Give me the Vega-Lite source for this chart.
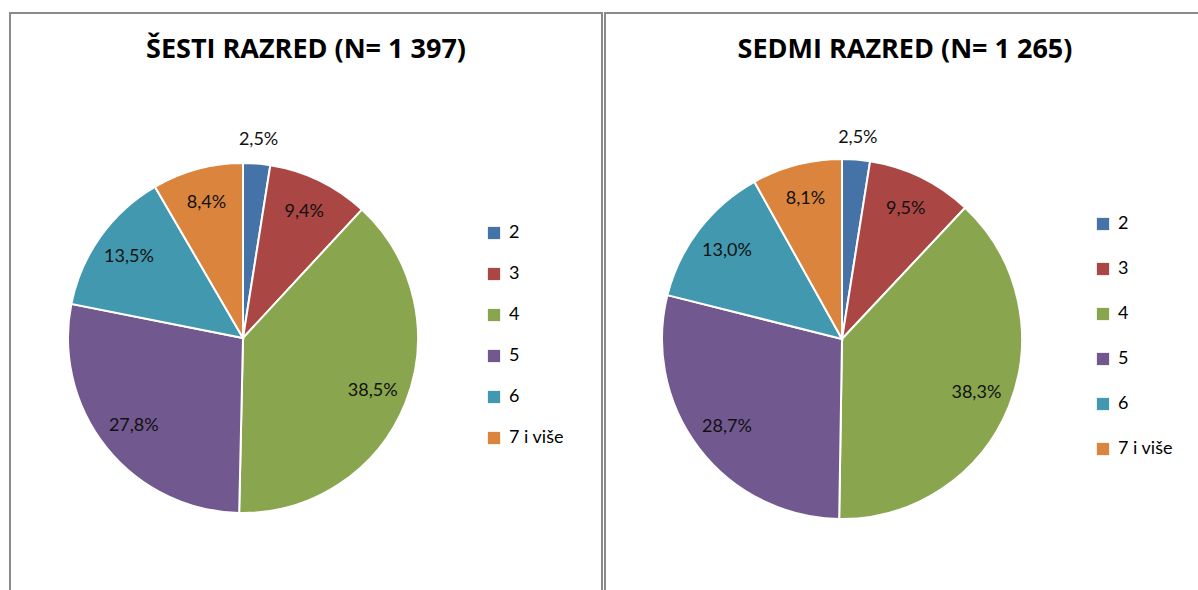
{
  "$schema": "https://vega.github.io/schema/vega-lite/v6.json",
  "background": "white",
  "padding": {"left": 9, "top": 12, "right": 0, "bottom": 0},
  "datasets": {
    "g6": [
      {"grade": "2", "share": 0.025},
      {"grade": "3", "share": 0.094},
      {"grade": "4", "share": 0.385},
      {"grade": "5", "share": 0.278},
      {"grade": "6", "share": 0.135},
      {"grade": "7 i više", "share": 0.084}
    ],
    "g7": [
      {"grade": "2", "share": 0.025},
      {"grade": "3", "share": 0.095},
      {"grade": "4", "share": 0.383},
      {"grade": "5", "share": 0.287},
      {"grade": "6", "share": 0.130},
      {"grade": "7 i više", "share": 0.081}
    ],
    "frame": [{"panel": "frame"}]
  },
  "spacing": 1,
  "resolve": {"legend": {"color": "independent"}},
  "hconcat": [
    {
      "width": 592,
      "height": 600,
      "title": {"text": "ŠESTI RAZRED (N= 1 397)", "offset": -52, "anchor": "middle"},
      "layer": [
        {
          "data": {"name": "frame"},
          "mark": {"type": "rect", "fill": null, "stroke": "#8a8a8a", "strokeWidth": 2},
          "encoding": {
            "x": {"value": 0}, "x2": {"value": "width"},
            "y": {"value": 0}, "y2": {"value": "height"}
          }
        },
        {
          "data": {"name": "g6"},
          "mark": {"type": "arc", "x": 233, "y": 325, "outerRadius": 175, "stroke": "white", "strokeWidth": 2},
          "encoding": {
            "theta": {"field": "share", "type": "quantitative", "stack": true},
            "order": {"field": "grade", "sort": "ascending"},
            "color": {
              "field": "grade", "type": "nominal",
              "scale": {"domain": ["2", "3", "4", "5", "6", "7 i više"], "range": ["#4572A7", "#AA4643", "#89A54E", "#71588F", "#4198AF", "#DB843D"]},
              "legend": {"orient": "none", "legendX": 475, "legendY": 211, "title": null, "rowPadding": 23}
            }
          }
        },
        {
          "data": {"name": "g6"},
          "mark": {"type": "text", "x": 233, "y": 325, "fontSize": 18, "color": "#111111", "radius": {"expr": "datum.share < 0.05 ? 199 : 140"}},
          "encoding": {
            "theta": {"field": "share", "type": "quantitative", "stack": true},
            "order": {"field": "grade", "sort": "ascending"},
            "text": {"field": "share", "type": "quantitative", "format": ".1%"}
          }
        }
      ]
    },
    {
      "width": 600,
      "height": 600,
      "title": {"text": "SEDMI RAZRED (N= 1 265)", "offset": -52, "anchor": "middle"},
      "layer": [
        {
          "data": {"name": "frame"},
          "mark": {"type": "rect", "fill": null, "stroke": "#8a8a8a", "strokeWidth": 2},
          "encoding": {
            "x": {"value": 0}, "x2": {"value": "width"},
            "y": {"value": 0}, "y2": {"value": "height"}
          }
        },
        {
          "data": {"name": "g7"},
          "mark": {"type": "arc", "x": 237, "y": 326, "outerRadius": 180, "stroke": "white", "strokeWidth": 2},
          "encoding": {
            "theta": {"field": "share", "type": "quantitative", "stack": true},
            "order": {"field": "grade", "sort": "ascending"},
            "color": {
              "field": "grade", "type": "nominal",
              "scale": {"domain": ["2", "3", "4", "5", "6", "7 i više"], "range": ["#4572A7", "#AA4643", "#89A54E", "#71588F", "#4198AF", "#DB843D"]},
              "legend": {"orient": "none", "legendX": 489, "legendY": 202, "title": null, "rowPadding": 27}
            }
          }
        },
        {
          "data": {"name": "g7"},
          "mark": {"type": "text", "x": 237, "y": 326, "fontSize": 18, "color": "#111111", "radius": {"expr": "datum.share < 0.05 ? 202 : 145"}},
          "encoding": {
            "theta": {"field": "share", "type": "quantitative", "stack": true},
            "order": {"field": "grade", "sort": "ascending"},
            "text": {"field": "share", "type": "quantitative", "format": ".1%"}
          }
        }
      ]
    }
  ],
  "config": {
    "font": "Lato",
    "view": {"stroke": null},
    "locale": {"number": {"decimal": ",", "thousands": " ", "grouping": [3], "currency": ["", ""]}},
    "title": {"font": "Open Sans", "fontSize": 27, "fontWeight": "bold", "color": "#000000"},
    "legend": {
      "symbolType": "square",
      "symbolSize": 150,
      "symbolStrokeWidth": 0,
      "labelFont": "Lato",
      "labelFontSize": 18,
      "labelColor": "#000000",
      "labelOffset": 6
    }
  }
}
